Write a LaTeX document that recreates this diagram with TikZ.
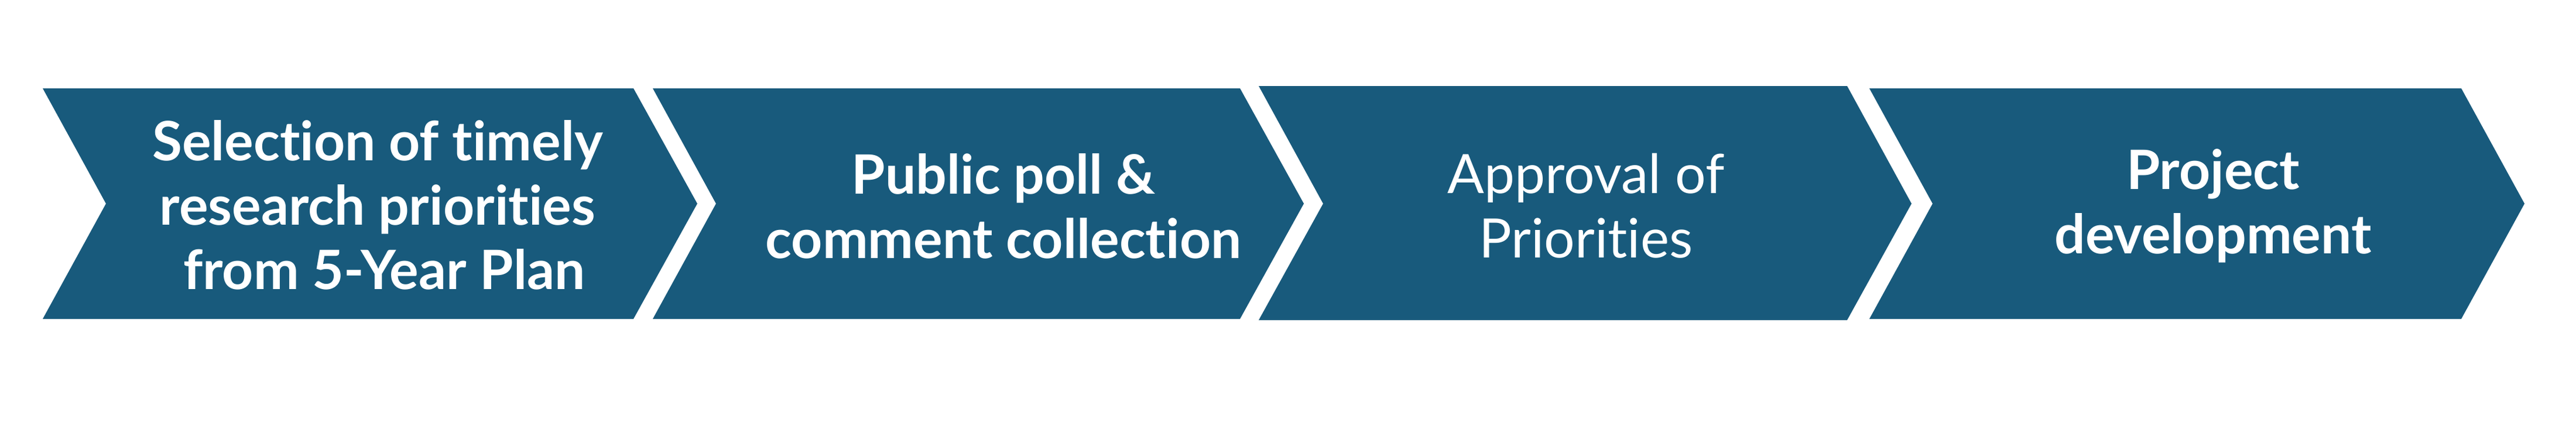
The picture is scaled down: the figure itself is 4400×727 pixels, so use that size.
\documentclass[tikz,border=0pt]{standalone}
\usepackage{fontspec}
\setmainfont{Lato}[Ligatures=CommonOff]
\definecolor{chev}{RGB}{24,90,124}
\begin{document}
\begin{tikzpicture}[x=0.01cm,y=-0.01cm,
  chevbox/.style={fill=chev,draw=none},
  lbl/.style={text=white,align=center,anchor=center,inner sep=0pt,font=\fontsize{26.4}{31.3}\selectfont},
  blbl/.style={lbl,font=\fontsize{26.4}{31.3}\selectfont\bfseries}]
\useasboundingbox (0,0) rectangle (4400,727);
\fill[white] (0,0) rectangle (4400,727);
\fill[chevbox] (73,151) -- (1082,151) -- (1191,348) -- (1082,545) -- (73,545) -- (181,348) -- cycle;
\fill[chevbox] (1115,151) -- (2118,151) -- (2227,348) -- (2118,545) -- (1115,545) -- (1223,348) -- cycle;
\fill[chevbox] (2150,147) -- (3155,147) -- (3265,348) -- (3155,547) -- (2150,547) -- (2260,348) -- cycle;
\fill[chevbox] (3193,151) -- (4204,151) -- (4312,348) -- (4204,545) -- (3193,545) -- (3301,348) -- cycle;
\node[blbl] (s1) at (645,350) {Selection of timely\\research priorities\\\ from 5-Year Plan};
\node[blbl] (s2) at (1714,352) {Public poll \&\\comment collection};
\node[lbl] (s3) at (2709,352) {Approval of\\Priorities};
\node[blbl] (s4) at (3780,352) {Project\\development};
\end{tikzpicture}
\end{document}
